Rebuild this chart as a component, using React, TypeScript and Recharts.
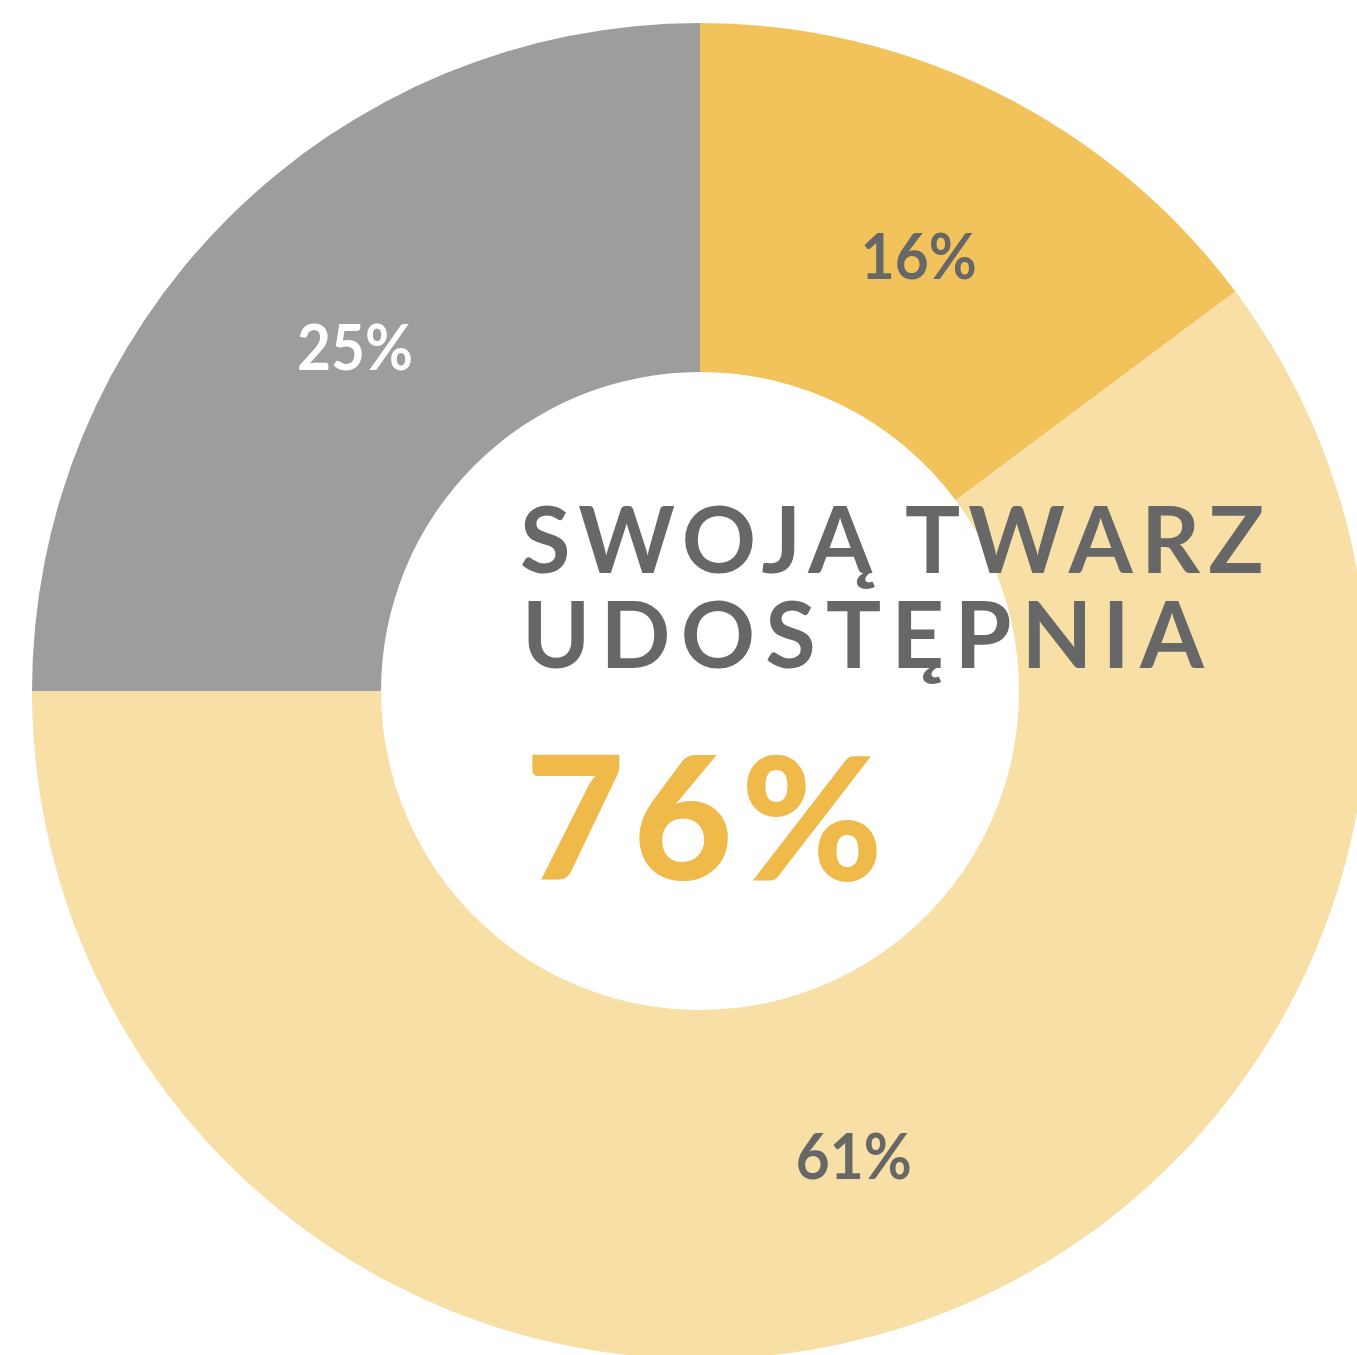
import { PieChart, Pie, Cell, Label } from 'recharts'

// slice shares as drawn (clockwise from 12 o'clock) and the printed labels
const names = ['a', 'b', 'c']
const shares = [14.8, 60.2, 25]
const labels = ['16%', '61%', '25%']
const colors = ['#F2C35B', '#F7DFA5', '#9D9D9C']
const labelColors = ['#676767', '#676767', '#FFFFFF']

const titleLines = ['SWOJĄ TWARZ', 'UDOSTĘPNIA']
const bigValue = '76%'

const data = names.map((n, i) => ({ name: n, value: shares[i] }))

const CX = 700
const CY = 691
const RAD = Math.PI / 180
const FONT = 'Lato, "Open Sans", sans-serif'

function renderLabel(props: any) {
  const { cx, cy, midAngle, index } = props
  const r = 488
  const x = cx + r * Math.cos(-midAngle * RAD)
  const y = cy + r * Math.sin(-midAngle * RAD)
  return (
    <text
      x={x}
      y={y}
      fill={labelColors[index]}
      textAnchor="middle"
      dominantBaseline="central"
      fontFamily={FONT}
      fontWeight={700}
      fontSize={63}
      textLength={116}
      lengthAdjust="spacingAndGlyphs"
    >
      {labels[index]}
    </text>
  )
}

function CenterText() {
  return (
    <g fontFamily={FONT}>
      <text x={CX - 180} y={CY - 118} fill="#676767" fontSize={92} fontWeight={700} textLength={744} lengthAdjust="spacing">
        {titleLines[0]}
      </text>
      <text x={CX - 178} y={CY - 23} fill="#676767" fontSize={92} fontWeight={700} textLength={682} lengthAdjust="spacing">
        {titleLines[1]}
      </text>
      <text x={CX - 175} y={CY + 189} fill="#EFBA4A" fontSize={172} fontWeight={900} textLength={358} lengthAdjust="spacing">
        {bigValue}
      </text>
    </g>
  )
}

export default function App() {
  return (
    <div style={{ position: 'absolute', left: 0, top: 0, width: 1357, height: 1355, overflow: 'hidden', background: '#fff' }}>
      <PieChart width={1357} height={1355} margin={{ top: 0, right: 0, bottom: 0, left: 0 }}>
        <Pie
          data={data}
          dataKey="value"
          cx={CX}
          cy={CY}
          innerRadius={319}
          outerRadius={668}
          startAngle={90}
          endAngle={-270}
          stroke="none"
          label={renderLabel}
          labelLine={false}
          isAnimationActive={false}
        >
          {data.map((d, i) => (
            <Cell key={d.name} fill={colors[i]} />
          ))}
          <Label content={() => <CenterText />} />
        </Pie>
      </PieChart>
    </div>
  )
}
